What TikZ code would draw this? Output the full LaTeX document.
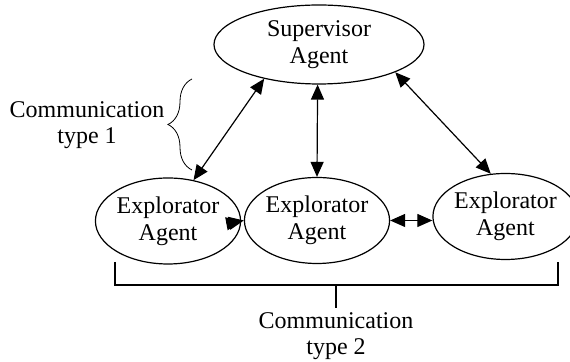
\documentclass[tikz,border=0pt]{standalone}
\usepackage{fontspec}
\setmainfont{Liberation Serif}
\usetikzlibrary{shapes.geometric,arrows.meta,decorations.pathreplacing}

\begin{document}
\begin{tikzpicture}[x=0.5pt,y=-0.5pt,
    agent/.style={ellipse,draw,line width=0.6pt,inner sep=0pt,align=center,font=\fontsize{12}{13.5}\selectfont},
    link/.style={{Triangle[length=7.5pt,width=6.5pt]}-{Triangle[length=7.5pt,width=6.5pt]},line width=0.6pt},
    note/.style={align=center,font=\fontsize{12}{13}\selectfont}]
\useasboundingbox (0,0) rectangle (570,362);

%draw agents
    \node[agent,minimum width=105pt,minimum height=39.5pt] (sup) at (319,44.5) {Supervisor\\Agent};
    \foreach \name/\x/\y in {exl/168/221, exm/317/220.5, exr/505.5/216.5}
    \node[agent,minimum width=65pt,minimum height=43pt] (\name) at (\x,\y) {Explorator\\Agent};

%draw links
    \draw[link] (sup.212) -- (exl.58);
    \draw[link] (sup.268) -- (exm.north);
    \draw[link] (sup.340) -- (exr.109);
    \draw[link] (exl.east) -- (exm.west);
    \draw[link] (exm.east) -- (exm.east -| exr.west);

%draw brace and bracket
    \draw[decorate,decoration={brace,amplitude=12pt}] (192,170) -- (192,79);
    \node[note] (type1) at (87,125) {Communication\\type 1};

    \draw[line width=0.6pt] (115,262) -- (115,285) -- (558,285) -- (558,262);
    \draw[line width=0.6pt] (336,285) -- (336,308) coordinate (tip2);
    \node[note,anchor=north,inner sep=2pt] (type2) at (tip2) {Communication\\type 2};

\end{tikzpicture}
\end{document}
